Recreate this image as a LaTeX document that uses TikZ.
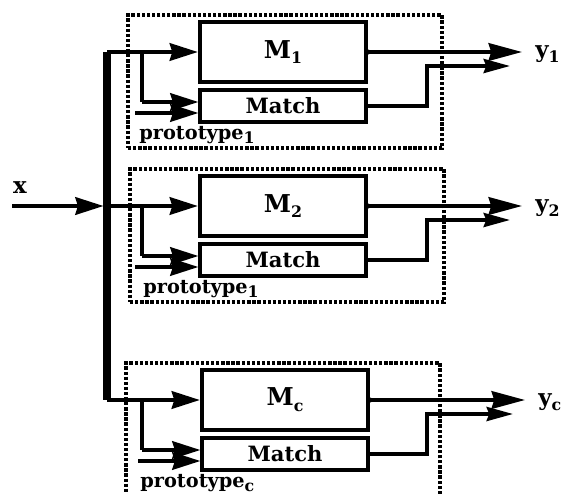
\documentclass[tikz,border=0pt]{standalone}
\usepackage{fontspec}
\setmainfont{DejaVu Serif}
\usetikzlibrary{arrows.meta}

\newcommand{\idx}[1]{\raisebox{-0.45ex}{\small #1}}

\begin{document}
\begin{tikzpicture}[x=0.02cm, y=-0.02cm,
    font=\bfseries\fontsize{13}{15}\selectfont,
    protobox/.style={draw, densely dotted, line width=1.9pt, minimum width=6.28cm, minimum height=2.66cm, inner sep=0pt},
    modelbox/.style={draw, line width=2.5pt, minimum width=3.32cm, minimum height=1.2cm, inner sep=0pt,
                     font=\bfseries\fontsize{14}{16}\selectfont},
    matchbox/.style={draw, line width=1.9pt, minimum width=3.32cm, minimum height=0.64cm, inner sep=0pt,
                     font=\bfseries\fontsize{12}{14}\selectfont},
    protolabel/.style={anchor=base west, inner sep=0pt, font=\bfseries\fontsize{11}{13}\selectfont},
    wire/.style={line width=2pt},
    bus/.style={line width=4pt},
    inhead/.style={-{Stealth[length=16pt,width=10pt,inset=1.5pt]}},
    outhead/.style={-{Stealth[length=19pt,width=10pt,inset=1.5pt]}},
    backhead/.style={-{Stealth[length=15pt,width=8pt,inset=1.5pt]}}]
    \useasboundingbox (0,0) rectangle (562,494);

    % prototype 1
    \node[protobox] (P1) at (285,81.5) {};
    \node[modelbox] (M1) at (283,52) {M\idx{1}};
    \node[matchbox] (C1) at (283,106) {Match};
    \node[protolabel] (L1) at (139,139) {prototype\idx{1}};

    % prototype 2
    \node[protobox] (P2) at (287,235.5) {};
    \node[modelbox] (M2) at (283,206) {M\idx{2}};
    \node[matchbox] (C2) at (283,260) {Match};
    \node[protolabel] (L2) at (143,293) {prototype\idx{1}};

    % prototype c
    \node[protobox] (Pc) at (283,429.5) {};
    \node[modelbox] (Mc) at (285,400) {M\idx{c}};
    \node[matchbox] (Cc) at (285,454) {Match};
    \node[protolabel] (Lc) at (140,487) {prototype\idx{c}};

    % input x and bus
    \node (xlab) at (20,188) {x};
    \coordinate (xin) at (12,206);
    \coordinate (bustop) at (107,52);
    \coordinate (bus2) at (107,206);
    \coordinate (busbot) at (107,400);
    \draw[bus] (bustop) -- (busbot);
    \draw[wire, inhead, shorten >=2pt] (xin) -- (bus2);

    % inputs of prototype 1
    \coordinate (b1) at (142,52);
    \coordinate (b1low) at (142,102);
    \coordinate (s1) at (135,113);
    \draw[wire, inhead] (bustop) -- (M1.west);
    \draw[wire] (b1) -- (b1low);
    \draw[wire, inhead] (b1low) -- (C1.west |- b1low);
    \draw[wire, inhead] (s1) -- (C1.west |- s1);

    % inputs of prototype 2
    \coordinate (b2) at (142,206);
    \coordinate (b2low) at (142,256);
    \coordinate (s2) at (135,267);
    \draw[wire, inhead] (bus2) -- (M2.west);
    \draw[wire] (b2) -- (b2low);
    \draw[wire, inhead] (b2low) -- (C2.west |- b2low);
    \draw[wire, inhead] (s2) -- (C2.west |- s2);

    % inputs of prototype c
    \coordinate (bc) at (142,400);
    \coordinate (bclow) at (142,450);
    \coordinate (sc) at (138,461);
    \draw[wire, inhead] (busbot) -- (Mc.west);
    \draw[wire] (bc) -- (bclow);
    \draw[wire, inhead] (bclow) -- (Cc.west |- bclow);
    \draw[wire, inhead] (sc) -- (Cc.west |- sc);

    % outputs
    \coordinate (y1end) at (522,52);
    \coordinate (k1) at (427,66);
    \coordinate (c1end) at (510,66);
    \node[anchor=west, inner sep=0pt] (y1) at (535,54) {y\idx{1}};
    \draw[wire, outhead] (M1.east) -- (y1end);
    \fill (M1.east) circle (2.5);
    \draw[wire, backhead] (C1.east) -| (k1) -- (c1end);

    \coordinate (y2end) at (522,206);
    \coordinate (k2) at (427,220);
    \coordinate (c2end) at (510,220);
    \node[anchor=west, inner sep=0pt] (y2) at (535,208) {y\idx{2}};
    \draw[wire, outhead] (M2.east) -- (y2end);
    \fill (M2.east) circle (2.5);
    \draw[wire, backhead] (C2.east) -| (k2) -- (c2end);

    \coordinate (ycend) at (525,400);
    \coordinate (kc) at (427,414);
    \coordinate (ccend) at (513,414);
    \node[anchor=west, inner sep=0pt] (yc) at (538,402) {y\idx{c}};
    \draw[wire, outhead] (Mc.east) -- (ycend);
    \fill (Mc.east) circle (2.5);
    \draw[wire, backhead] (Cc.east) -| (kc) -- (ccend);
\end{tikzpicture}
\end{document}
